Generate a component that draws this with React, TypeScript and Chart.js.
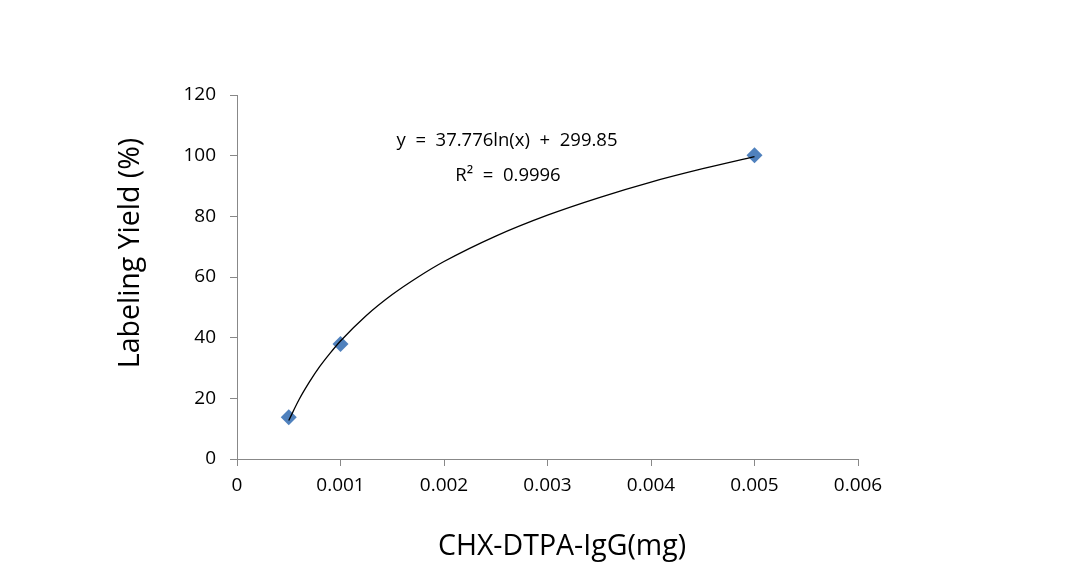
import React, { useEffect, useRef } from "react";
import { Chart, registerables } from "chart.js";

Chart.register(...registerables);

const pointX = [0.0005, 0.001, 0.005];
const pointY = [13.8, 37.9, 100.1];

const trendX = [0.0005, 0.0006, 0.0007, 0.0008, 0.0009, 0.001, 0.00125, 0.0015, 0.00175, 0.002, 0.0025, 0.003, 0.0035, 0.004, 0.0045, 0.005];
const trendY = [12.7, 19.6, 25.4, 30.5, 34.9, 38.9, 47.3, 54.2, 60.0, 65.1, 73.5, 80.4, 86.2, 91.3, 95.7, 99.7];

const xTicks = [0, 0.001, 0.002, 0.003, 0.004, 0.005, 0.006];
const yTicks = [0, 20, 40, 60, 80, 100, 120];

const equationText = "y  =  37.776ln(x)  +  299.85";
const r2Text = "R²  =  0.9996";
const xTitle = "CHX-DTPA-IgG(mg)";
const yTitle = "Labeling Yield (%)";

const FONT = "'Open Sans', sans-serif";

export default function App() {
  const ref = useRef<HTMLCanvasElement | null>(null);

  useEffect(() => {
    const canvas = ref.current;
    if (!canvas) return;

    const textPlugin = {
      id: "texts",
      afterDraw(chart: any) {
        const ctx = chart.ctx;
        ctx.save();
        ctx.fillStyle = "#000";
        ctx.textAlign = "center";
        ctx.textBaseline = "middle";
        ctx.font = `18.5px ${FONT}`;
        ctx.fillText(equationText, 507, 141);
        ctx.fillText(r2Text, 508, 176);
        ctx.font = `28.5px ${FONT}`;
        ctx.fillText(xTitle, 562, 547);
        ctx.translate(131, 253);
        ctx.rotate(-Math.PI / 2);
        ctx.fillText(yTitle, 0, 0);
        ctx.restore();
      },
    };

    const chart = new Chart(canvas, {
      type: "scatter",
      data: {
        datasets: [
          {
            label: "Data",
            data: pointX.map((x, i) => ({ x, y: pointY[i] })),
            pointStyle: "rectRot",
            pointRadius: 8,
            backgroundColor: "#4F81BD",
            borderColor: "#4F81BD",
            borderWidth: 0,
            order: 2,
          },
          {
            label: "Trend",
            type: "line",
            data: trendX.map((x, i) => ({ x, y: trendY[i] })),
            borderColor: "#000",
            borderWidth: 1.3,
            pointRadius: 0,
            cubicInterpolationMode: "monotone",
            fill: false,
            order: 1,
          } as any,
        ],
      },
      options: {
        animation: false,
        responsive: false,
        devicePixelRatio: 1,
        layout: { padding: { top: 95, right: 218, left: 0, bottom: 0 } },
        plugins: {
          legend: { display: false },
          tooltip: { enabled: false },
        },
        scales: {
          x: {
            type: "linear",
            min: 0,
            max: 0.006,
            afterBuildTicks: (axis: any) => {
              axis.ticks = xTicks.map((v) => ({ value: v }));
            },
            afterFit: (axis: any) => {
              axis.height = 585 - 459;
            },
            ticks: {
              color: "#000",
              font: { family: FONT, size: 19 },
              padding: 8,
              maxRotation: 0,
              callback: (v: any) => String(Number(v)),
            },
            grid: {
              display: true,
              drawOnChartArea: false,
              drawTicks: true,
              tickLength: 7,
              color: "#888",
            },
            border: { display: true, color: "#888", width: 1 },
          },
          y: {
            type: "linear",
            min: 0,
            max: 120,
            afterBuildTicks: (axis: any) => {
              axis.ticks = yTicks.map((v) => ({ value: v }));
            },
            afterFit: (axis: any) => {
              axis.width = 237;
            },
            ticks: {
              color: "#000",
              font: { family: FONT, size: 19 },
              padding: 14,
            },
            grid: {
              display: true,
              drawOnChartArea: false,
              drawTicks: true,
              tickLength: 7,
              color: "#888",
            },
            border: { display: true, color: "#888", width: 1 },
          },
        },
      },
      plugins: [textPlugin],
    } as any);

    return () => chart.destroy();
  }, []);

  return (
    <div style={{ position: "fixed", left: 0, top: 0, width: 1076, height: 585, background: "#fff" }}>
      <canvas ref={ref} width={1076} height={585} style={{ width: 1076, height: 585 }} />
    </div>
  );
}
